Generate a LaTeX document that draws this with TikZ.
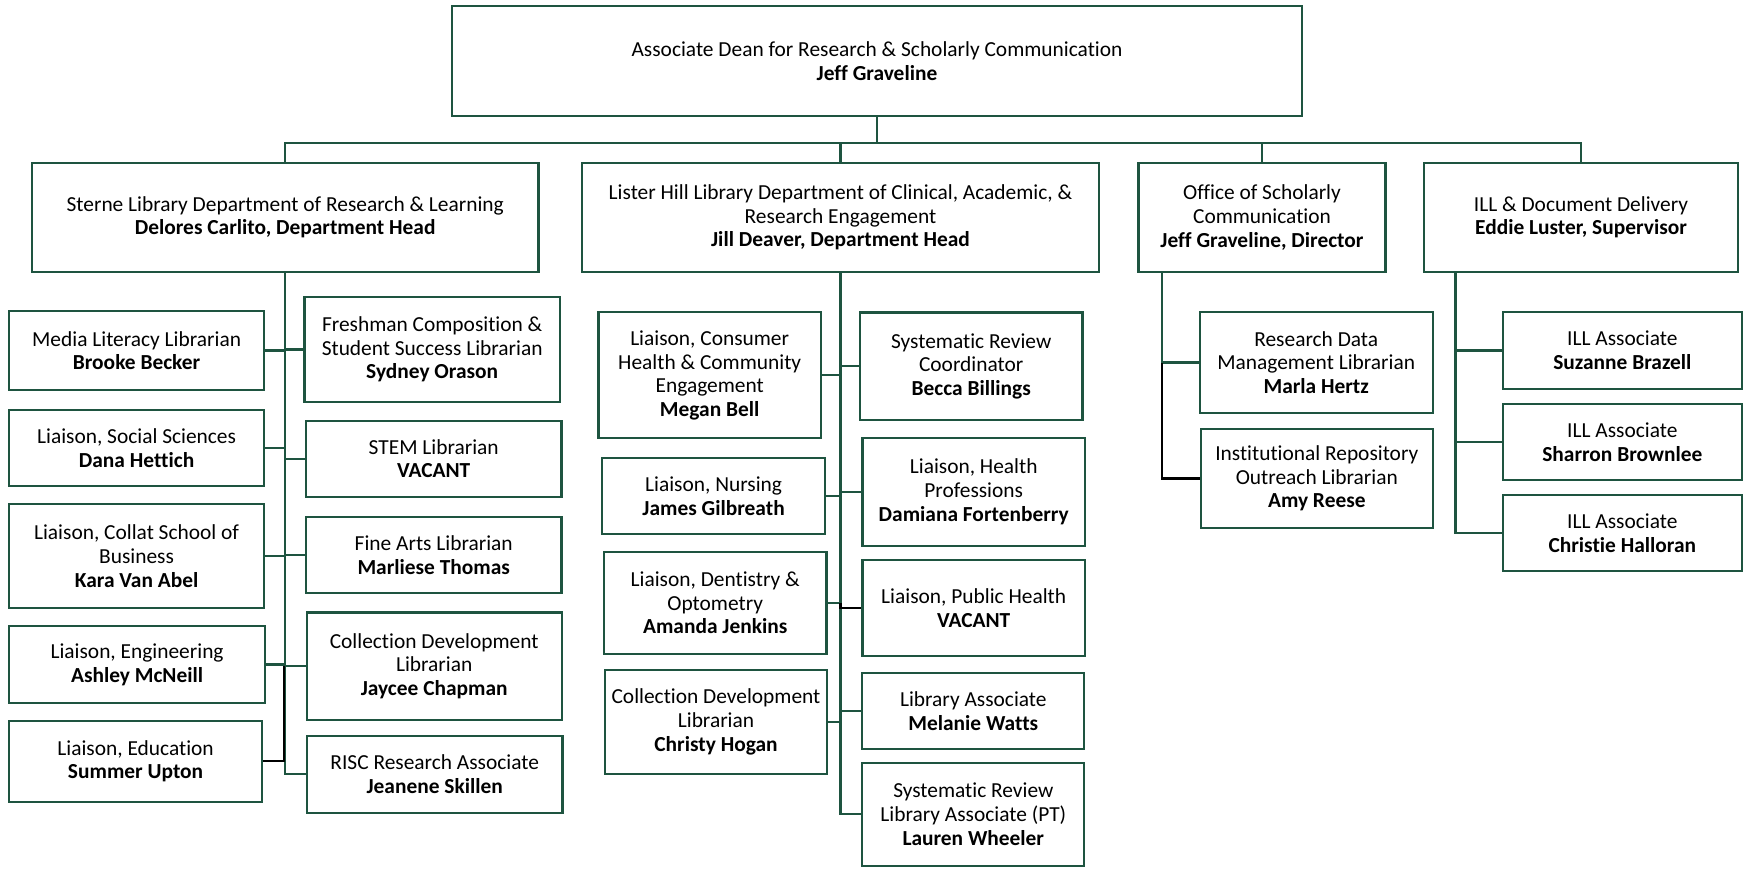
\documentclass[tikz,border=0pt]{standalone}
\usepackage{fontspec}
\setmainfont{Carlito}[Ligatures=NoCommon]
\usetikzlibrary{calc}
\definecolor{uabgreen}{RGB}{30,84,64}
\tikzset{
  box/.style={draw=uabgreen, line width=2.3pt, fill=white, inner sep=0pt, align=center,
    font=\fontsize{21.4}{23.7}\selectfont},
  conn/.style={draw=uabgreen, line width=2.3pt},
  blk/.style={draw=black, line width=2.3pt}
}
\begin{document}
\begin{tikzpicture}[x=1pt,y=-1pt]
\useasboundingbox[fill=white] (0,0) rectangle (1744,869);
\coordinate (busy) at (0,143);
% level 0
\node[box, minimum width=850, minimum height=110] (top) at (877,61) {Associate Dean for Research \& Scholarly Communication\\\textbf{Jeff Graveline}};
% level 1
\node[box, minimum width=506.7, minimum height=109.3] (sterne) at (285.2,217.4) {Sterne Library Department of Research \& Learning\\\textbf{Delores Carlito, Department Head}};
\node[box, minimum width=517, minimum height=109.3] (lister) at (840.5,217.4) {Lister Hill Library Department of Clinical, Academic, \&\\Research Engagement\\\textbf{Jill Deaver, Department Head}};
\node[box, minimum width=247, minimum height=109.3] (office) at (1262,217.4) {Office of Scholarly\\Communication\\\textbf{Jeff Graveline, Director}};
\node[box, minimum width=313.5, minimum height=109.3] (ill) at (1581,217.4) {ILL \& Document Delivery\\\textbf{Eddie Luster, Supervisor}};
% Sterne left
\node[box, minimum width=254.8, minimum height=79] (media) at (136.6,350.5) {Media Literacy Librarian\\\textbf{Brooke Becker}};
\node[box, minimum width=254.8, minimum height=76] (social) at (136.6,448) {Liaison, Social Sciences\\\textbf{Dana Hettich}};
\node[box, minimum width=254.8, minimum height=104] (collat) at (136.6,556.3) {Liaison, Collat School of\\Business\\\textbf{Kara Van Abel}};
\node[box, minimum width=255.8, minimum height=77.6] (engin) at (137.1,664.5) {Liaison, Engineering\\\textbf{Ashley McNeill}};
\node[box, minimum width=252.8, minimum height=80.7] (educ) at (135.6,761.3) {Liaison, Education\\\textbf{Summer Upton}};
% Sterne right
\node[box, minimum width=255.3, minimum height=104.4] (fresh) at (432.2,349.5) {Freshman Composition \&\\Student Success Librarian\\\textbf{Sydney Orason}};
\node[box, minimum width=255.3, minimum height=76] (stem) at (433.7,458.7) {STEM Librarian\\\textbf{VACANT}};
\node[box, minimum width=255.3, minimum height=76.6] (fine) at (433.7,555) {Fine Arts Librarian\\\textbf{Marliese Thomas}};
\node[box, minimum width=255, minimum height=107.7] (jaycee) at (434.2,666.2) {Collection Development\\Librarian\\\textbf{Jaycee Chapman}};
\node[box, minimum width=255.4, minimum height=76.7] (risc) at (434.7,774.3) {RISC Research Associate\\\textbf{Jeanene Skillen}};
% Lister left
\node[box, minimum width=222.4, minimum height=126] (consumer) at (709.7,375.3) {Liaison, Consumer\\Health \& Community\\Engagement\\\textbf{Megan Bell}};
\node[box, minimum width=222.8, minimum height=76] (nursing) at (713.6,496.3) {Liaison, Nursing\\\textbf{James Gilbreath}};
\node[box, minimum width=222.4, minimum height=102.3] (dentistry) at (715.2,602.8) {Liaison, Dentistry \&\\Optometry\\\textbf{Amanda Jenkins}};
\node[box, minimum width=221.6, minimum height=104] (christy) at (716,722) {Collection Development\\Librarian\\\textbf{Christy Hogan}};
% Lister right
\node[box, minimum width=222.5, minimum height=107.7] (srcoord) at (971.2,366.2) {Systematic Review\\Coordinator\\\textbf{Becca Billings}};
\node[box, minimum width=222.7, minimum height=108.3] (healthprof) at (973.7,491.8) {Liaison, Health\\Professions\\\textbf{Damiana Fortenberry}};
\node[box, minimum width=222.7, minimum height=95.7] (publichealth) at (973.7,607.8) {Liaison, Public Health\\\textbf{VACANT}};
\node[box, minimum width=222, minimum height=76] (melanie) at (973.3,711.3) {Library Associate\\\textbf{Melanie Watts}};
\node[box, minimum width=222, minimum height=103.3] (lauren) at (973.3,814.3) {Systematic Review\\Library Associate (PT)\\\textbf{Lauren Wheeler}};
% Office
\node[box, minimum width=233.1, minimum height=100.4] (rdm) at (1316.2,362.5) {Research Data\\Management Librarian\\\textbf{Marla Hertz}};
\node[box, minimum width=231.9, minimum height=98.4] (irep) at (1316.8,478.5) {Institutional Repository\\Outreach Librarian\\\textbf{Amy Reese}};
% ILL
\node[box, minimum width=238.8, minimum height=76.4] (suzanne) at (1622.3,350.5) {ILL Associate\\\textbf{Suzanne Brazell}};
\node[box, minimum width=238.8, minimum height=76] (sharron) at (1622.3,442) {ILL Associate\\\textbf{Sharron Brownlee}};
\node[box, minimum width=238.8, minimum height=76] (christie) at (1622.3,533) {ILL Associate\\\textbf{Christie Halloran}};

% top bus
\draw[conn] (top.south) -- (top.south |- busy);
\draw[conn] (sterne.north) |- (ill.north |- busy) -- (ill.north);
\draw[conn] (lister.north) -- (lister.north |- busy);
\draw[conn] (office.north) -- (office.north |- busy);
% Sterne
\draw[conn] (sterne.south) |- (risc.west);
\foreach \n in {media,social,collat,engin}{\draw[conn] (\n.east) -- (\n.east -| sterne.south);}
\foreach \n in {fresh,stem,fine,jaycee}{\draw[conn] (\n.west) -- (\n.west -| sterne.south);}
\draw[blk] ($(sterne.south |- engin.east)+(-1.5,1)$) |- (educ.east);
% Lister
\draw[conn] (lister.south) |- (lauren.west);
\foreach \n in {consumer,nursing,dentistry,christy}{\draw[conn] (\n.east) -- (\n.east -| lister.south);}
\foreach \n in {srcoord,healthprof,melanie}{\draw[conn] (\n.west) -- (\n.west -| lister.south);}
\draw[blk] (lister.south |- dentistry.east) |- (publichealth.west);
% Office
\coordinate (osp) at ([xshift=24.5pt]office.south west);
\draw[conn] (osp) |- (rdm.west);
\draw[blk] (osp |- rdm.west) |- (irep.west);
% ILL
\coordinate (isp) at ([xshift=32.3pt]ill.south west);
\draw[conn] (isp) |- (christie.west);
\foreach \n in {suzanne,sharron}{\draw[conn] (\n.west) -- (\n.west -| isp);}
\end{tikzpicture}
\end{document}
